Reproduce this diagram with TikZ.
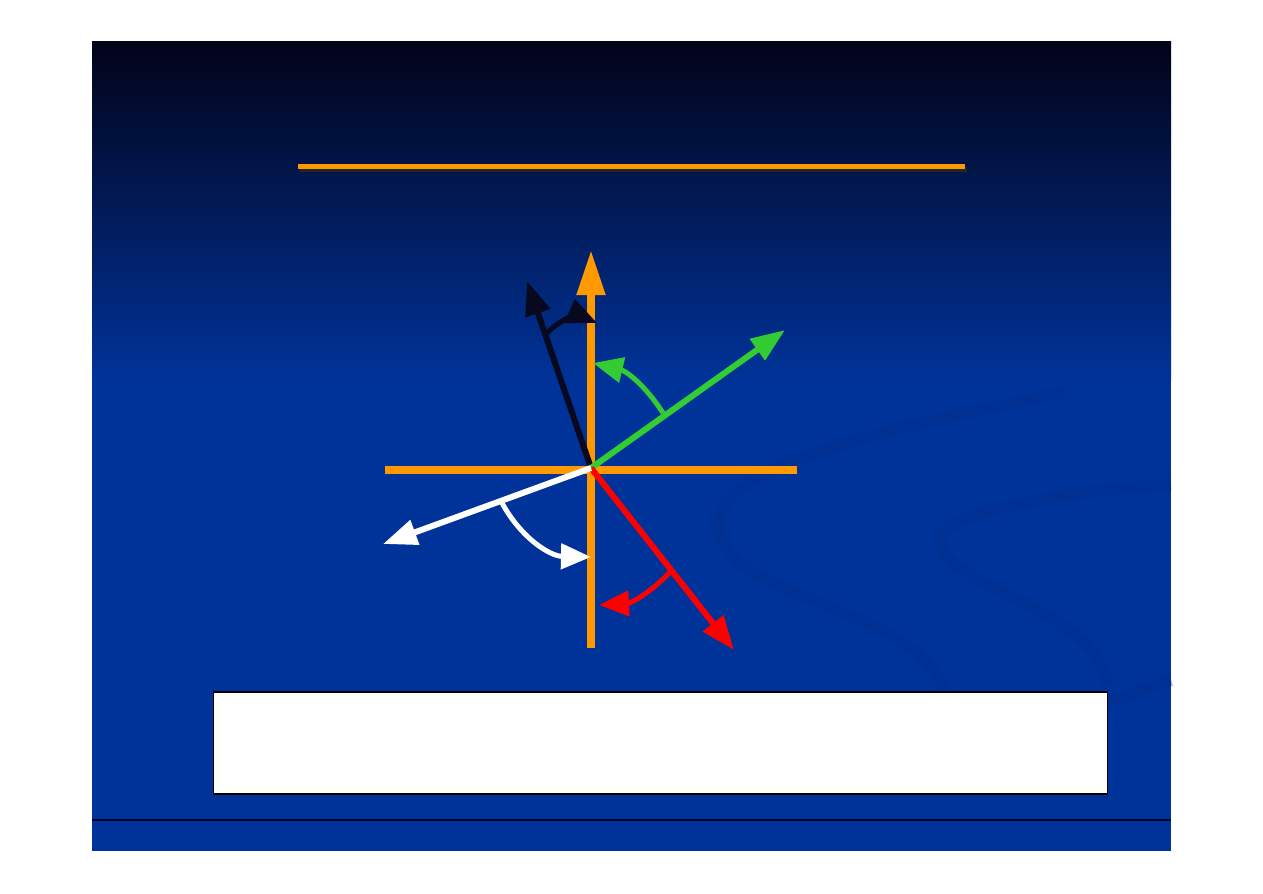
\documentclass[tikz,border=0pt]{standalone}
\usepackage{xcolor}
\usepackage{tikz}
\usetikzlibrary{arrows.meta}

\definecolor{slideblue}{RGB}{0,51,153}
\definecolor{slidetop}{RGB}{2,3,24}
\definecolor{swirlblue}{RGB}{0,45,138}
\definecolor{axisorange}{RGB}{255,153,0}
\definecolor{vecblack}{RGB}{8,8,30}
\definecolor{vecgreen}{RGB}{51,204,51}
\definecolor{vecred}{RGB}{255,0,0}

\begin{document}
\begin{tikzpicture}[x=0.01cm, y=-0.01cm,
    axis/.style={color=axisorange, line width=0.08cm},
    vec/.style={line width=0.06cm, -{Triangle[length=0.34cm, width=0.25cm]}},
    turn/.style={line width=0.05cm, -{Triangle[length=0.3cm, width=0.25cm]}}]
    \useasboundingbox (0,0) rectangle (1263,893);
    % slide background
    \fill[slideblue] (92,41) rectangle (1171,851);
    \shade[top color=slidetop, bottom color=slideblue] (92,41) rectangle (1171,380);
    \draw[swirlblue, line width=0.12cm, opacity=0.35]
      (1065,392) .. controls (880,430) and (690,470) .. (722,540)
      .. controls (745,600) and (915,610) .. (945,690);
    \draw[swirlblue, line width=0.12cm, opacity=0.35]
      (1171,484) .. controls (1040,495) and (925,515) .. (942,548)
      .. controls (960,590) and (1095,610) .. (1107,684);
    \draw[swirlblue, line width=0.12cm, opacity=0.35] (1107,702) -- (1171,680);
    % title rule
    \coordinate (TL) at (298,166);
    \coordinate (TR) at (965,166);
    \draw[black!85, line width=0.05cm] ([shift={(2,3)}]TL) -- ([shift={(2,3)}]TR);
    \draw[axisorange, line width=0.05cm] (TL) -- (TR);
    % axes
    \coordinate (O) at (591,468);
    \coordinate (Ytop) at (591,250);
    \coordinate (Ybot) at (591,648);
    \coordinate (Xl) at (385,470);
    \coordinate (Xr) at (797,470);
    \path [axis] (Xl) edge (Xr);
    \path [axis, -{Triangle[length=0.45cm, width=0.27cm]}] (Ybot) edge (Ytop);
    % vectors
    \coordinate (Kt) at (527,281);
    \coordinate (Gt) at (785,330);
    \coordinate (Rt) at (734,650);
    \coordinate (Wt) at (383,544);
    \path [vec, color=vecblack] (O) edge (Kt);
    \path [vec, color=vecgreen] (O) edge (Gt);
    \path [vec, color=vecred] (O) edge (Rt);
    \path [vec, color=white] (O) edge (Wt);
    % turning arcs
    \coordinate (K1) at (547,333);
    \coordinate (K2) at (597,323);
    \coordinate (G1) at (663,413);
    \coordinate (G2) at (593,363);
    \coordinate (W1) at (502,503);
    \coordinate (W2) at (591,557);
    \coordinate (R1) at (670,572);
    \coordinate (R2) at (599,605);
    \path [turn, color=vecblack] (K1) edge[bend left=35] (K2);
    \path [turn, color=vecgreen] (G1) edge[bend right=22] (G2);
    \path [turn, color=white] (W1) edge[bend right=30] (W2);
    \path [turn, color=vecred] (R1) edge[bend left=22] (R2);
    % caption box and footer rule
    \node[draw=black, fill=white, line width=0.015cm, inner sep=0pt,
      minimum width=8.93cm, minimum height=1.02cm] (box) at (660.5,743) {};
    \coordinate (FL) at (92,820);
    \coordinate (FR) at (1171,820);
    \draw[black!85!blue, line width=0.015cm] (FL) -- (FR);
\end{tikzpicture}
\end{document}
